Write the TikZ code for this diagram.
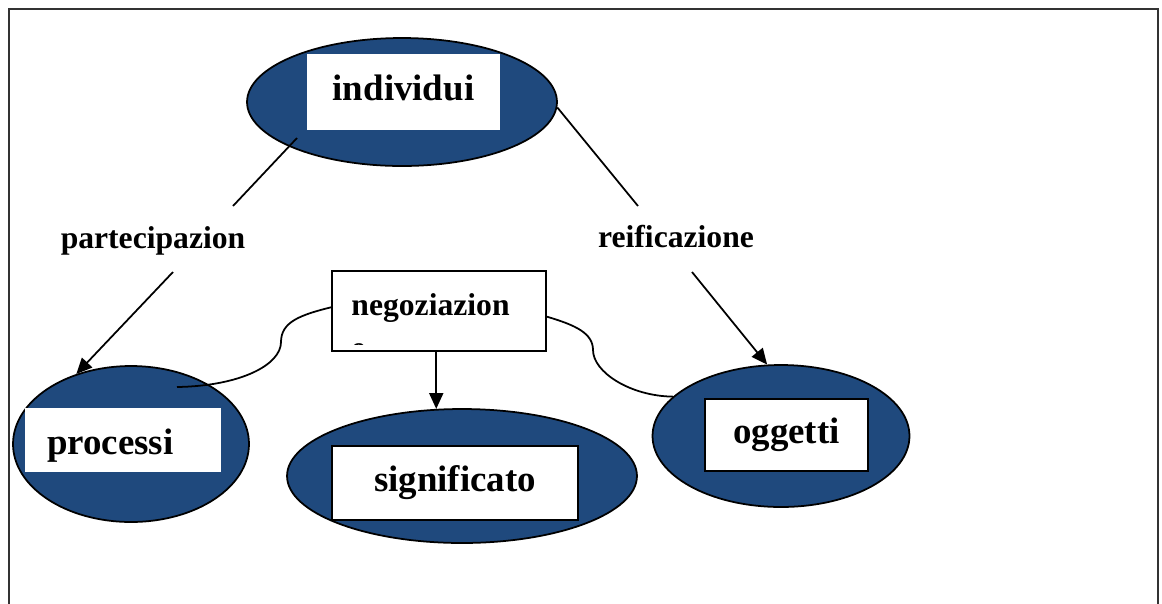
\documentclass[tikz,border=0pt]{standalone}
\usepackage{fontspec}
\setmainfont{Liberation Serif}
\usepackage{xcolor}
\usepackage{tikz}
\usetikzlibrary{shapes.geometric,arrows.meta,calc}
\definecolor{darkblue}{RGB}{31,73,125}

\begin{document}
\begin{tikzpicture}[
    x=0.02cm, y=-0.02cm,
    font=\bfseries\fontsize{21}{25}\selectfont,
    blob/.style={ellipse, draw=black, line width=1pt, fill=darkblue, inner sep=0pt},
    card/.style={rectangle, fill=white, inner sep=0pt, text height=15pt, text depth=5pt},
    boxed/.style={card, draw=black, line width=1pt},
    lbl/.style={font=\bfseries\fontsize{18}{24}\selectfont, inner sep=0pt, anchor=base},
    link/.style={line width=1pt},
    arrow/.style={link, -{Triangle[length=9pt,width=8pt]}}
]

    % Page frame
    \clip (0,0) rectangle (1162,603);
    \draw[line width=1.3pt, black!80] (9,9) rectangle (1158,650);

    % Top: individui
    \node[blob, minimum width=6.2cm, minimum height=2.56cm] (indiv) at (402,102) {};
    \node[card, minimum width=3.86cm, minimum height=1.52cm] (indivbox) at (403.5,92) {individui};

    % Bottom row
    \node[blob, minimum width=4.72cm, minimum height=3.12cm] (proc) at (131,444) {};
    \node[card, minimum height=1.28cm, text width=3.04cm, inner xsep=0.44cm, align=left,
          text height=17pt, text depth=0pt] (procbox) at (123,440) {processi};

    \node[blob, minimum width=7cm, minimum height=2.68cm] (signif) at (462,476) {};
    \node[boxed, minimum width=4.92cm, minimum height=1.48cm] (signifbox) at (455,483) {significato};

    \node[blob, minimum width=5.14cm, minimum height=2.84cm] (ogg) at (781,436) {};
    \node[boxed, minimum width=3.26cm, minimum height=1.44cm] (oggbox) at (786.5,435) {oggetti};

    % Middle: negoziazione (text cut inside the box)
    \node[boxed, minimum width=4.28cm, minimum height=1.6cm] (negoz) at (439,311) {};
    \begin{scope}
        \clip ($(negoz.south west)+(1,-7)$) rectangle ($(negoz.north east)+(-1,1)$);
        \node[lbl, anchor=base west, align=left] (negtext) at ($(negoz.north west)+(20,88)$) {negoziazion\\e};
    \end{scope}

    % Side labels
    \node[lbl] (partec) at (153,248) {partecipazion};
    \node[lbl] (reific) at (676,247) {reificazione};

    \coordinate (indivL) at (297,138);
    \coordinate (partecUp) at (233,206);
    \coordinate (partecDown) at (173,272);
    \coordinate (reificUp) at (638,206);
    \coordinate (reificDown) at (692,272);
    \coordinate (procIn) at (177,387);

    % Connectors
    \draw[link] (indivL) -- (partecUp);
    \draw[arrow] (partecDown) -- (proc.128);
    \draw[link] (indiv.-2) -- (reificUp);
    \draw[arrow] (reificDown) -- (ogg.101);
    \draw[arrow] (signif.111 |- negoz.south) -- (signif.111);
    \draw[link] (negoz.178) .. controls (300,315) and (281,322) .. (281,342)
                .. controls (281,365) and (240,386) .. (procIn);
    \draw[link] (negoz.-3) .. controls (575,325) and (593,333) .. (593,350)
                .. controls (593,372) and (630,396) .. (ogg.160);

\end{tikzpicture}
\end{document}
